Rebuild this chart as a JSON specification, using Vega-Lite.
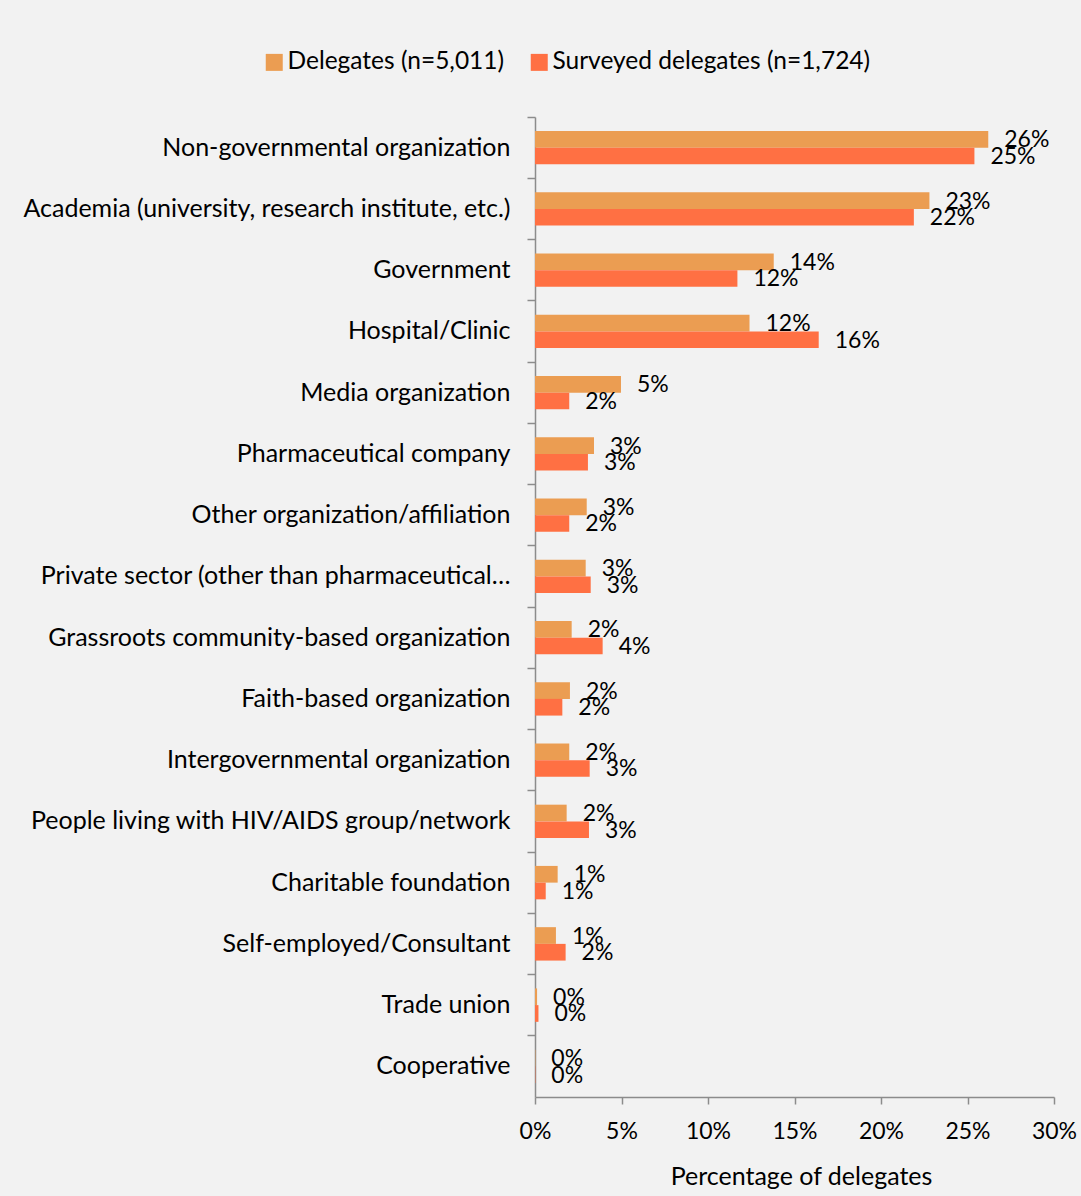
{
  "$schema": "https://vega.github.io/schema/vega-lite/v6.json",
  "width": 519,
  "height": 980,
  "autosize": {"type": "none"},
  "padding": {"left": 535, "top": 117, "right": 27, "bottom": 99},
  "background": "#f2f2f2",
  "config": {
    "view": {"stroke": null},
    "font": "Lato",
    "text": {"font": "Lato"}
  },
  "data": {
    "values": [
      {"org": "Non-governmental organization", "series": "Delegates (n=5,011)", "value": 0.262},
      {"org": "Non-governmental organization", "series": "Surveyed delegates (n=1,724)", "value": 0.254},
      {"org": "Academia (university, research institute, etc.)", "series": "Delegates (n=5,011)", "value": 0.228},
      {"org": "Academia (university, research institute, etc.)", "series": "Surveyed delegates (n=1,724)", "value": 0.219},
      {"org": "Government", "series": "Delegates (n=5,011)", "value": 0.138},
      {"org": "Government", "series": "Surveyed delegates (n=1,724)", "value": 0.117},
      {"org": "Hospital/Clinic", "series": "Delegates (n=5,011)", "value": 0.124},
      {"org": "Hospital/Clinic", "series": "Surveyed delegates (n=1,724)", "value": 0.164},
      {"org": "Media organization", "series": "Delegates (n=5,011)", "value": 0.0497},
      {"org": "Media organization", "series": "Surveyed delegates (n=1,724)", "value": 0.0198},
      {"org": "Pharmaceutical company", "series": "Delegates (n=5,011)", "value": 0.0341},
      {"org": "Pharmaceutical company", "series": "Surveyed delegates (n=1,724)", "value": 0.0306},
      {"org": "Other organization/affiliation", "series": "Delegates (n=5,011)", "value": 0.0299},
      {"org": "Other organization/affiliation", "series": "Surveyed delegates (n=1,724)", "value": 0.0198},
      {"org": "Private sector (other than pharmaceutical…", "series": "Delegates (n=5,011)", "value": 0.0293},
      {"org": "Private sector (other than pharmaceutical…", "series": "Surveyed delegates (n=1,724)", "value": 0.0322},
      {"org": "Grassroots community-based organization", "series": "Delegates (n=5,011)", "value": 0.0212},
      {"org": "Grassroots community-based organization", "series": "Surveyed delegates (n=1,724)", "value": 0.0391},
      {"org": "Faith-based organization", "series": "Delegates (n=5,011)", "value": 0.0202},
      {"org": "Faith-based organization", "series": "Surveyed delegates (n=1,724)", "value": 0.0158},
      {"org": "Intergovernmental organization ", "series": "Delegates (n=5,011)", "value": 0.0198},
      {"org": "Intergovernmental organization ", "series": "Surveyed delegates (n=1,724)", "value": 0.0316},
      {"org": "People living with HIV/AIDS group/network", "series": "Delegates (n=5,011)", "value": 0.0183},
      {"org": "People living with HIV/AIDS group/network", "series": "Surveyed delegates (n=1,724)", "value": 0.0312},
      {"org": "Charitable foundation", "series": "Delegates (n=5,011)", "value": 0.0131},
      {"org": "Charitable foundation", "series": "Surveyed delegates (n=1,724)", "value": 0.0062},
      {"org": "Self-employed/Consultant", "series": "Delegates (n=5,011)", "value": 0.0121},
      {"org": "Self-employed/Consultant", "series": "Surveyed delegates (n=1,724)", "value": 0.0177},
      {"org": "Trade union", "series": "Delegates (n=5,011)", "value": 0.0012},
      {"org": "Trade union", "series": "Surveyed delegates (n=1,724)", "value": 0.002},
      {"org": "Cooperative", "series": "Delegates (n=5,011)", "value": 0.0002},
      {"org": "Cooperative", "series": "Surveyed delegates (n=1,724)", "value": 0.0002}
    ]
  },
  "encoding": {
    "y": {
      "field": "org",
      "type": "nominal",
      "sort": null,
      "scale": {"paddingInner": 0, "paddingOuter": 0},
      "axis": {
        "title": null,
        "bandPosition": 0,
        "domainColor": "#8c8c8c",
        "domainWidth": 1.5,
        "tickColor": "#8c8c8c",
        "tickWidth": 1.5,
        "tickSize": 8,
        "labelFontSize": 25,
        "labelColor": "#000000",
        "labelFont": "Lato",
        "labelPadding": 17,
        "labelLimit": 600
      }
    },
    "yOffset": {
      "field": "series",
      "type": "nominal",
      "sort": null,
      "scale": {"paddingInner": 0, "paddingOuter": 0.833}
    },
    "x": {
      "field": "value",
      "type": "quantitative",
      "scale": {"domain": [0, 0.3], "nice": false},
      "axis": {
        "title": "Percentage of delegates",
        "format": ".0%",
        "values": [0, 0.05, 0.1, 0.15, 0.2, 0.25, 0.3],
        "grid": false,
        "labelFlush": false,
        "labelOverlap": false,
        "domainColor": "#8c8c8c",
        "domainWidth": 1.5,
        "tickColor": "#8c8c8c",
        "tickWidth": 1.5,
        "tickSize": 7,
        "labelFontSize": 23,
        "labelColor": "#000000",
        "labelFont": "Lato",
        "labelPadding": 16,
        "titleFontSize": 25,
        "titleFont": "Lato",
        "titleFontWeight": "normal",
        "titleColor": "#000000",
        "titlePadding": 21,
        "titleX": 266
      }
    }
  },
  "layer": [
    {
      "mark": {"type": "bar"},
      "encoding": {
        "color": {
          "field": "series",
          "type": "nominal",
          "sort": null,
          "scale": {"range": ["#eb9d52", "#ff7043"]},
          "legend": {
            "title": null,
            "orient": "none",
            "legendX": -273,
            "legendY": -67,
            "direction": "horizontal",
            "symbolType": "square",
            "symbolSize": 289,
            "symbolStrokeWidth": 0,
            "labelFontSize": 24.5,
            "labelFont": "Lato",
            "labelColor": "#000000",
            "labelOffset": 1,
            "columnPadding": 22,
            "labelLimit": 400
          }
        }
      }
    },
    {
      "mark": {"type": "text", "align": "left", "baseline": "middle", "dx": 16, "dy": 1, "fontSize": 23, "font": "Lato", "color": "#000000"},
      "encoding": {
        "text": {"field": "value", "type": "quantitative", "format": ".0%"}
      }
    }
  ]
}
